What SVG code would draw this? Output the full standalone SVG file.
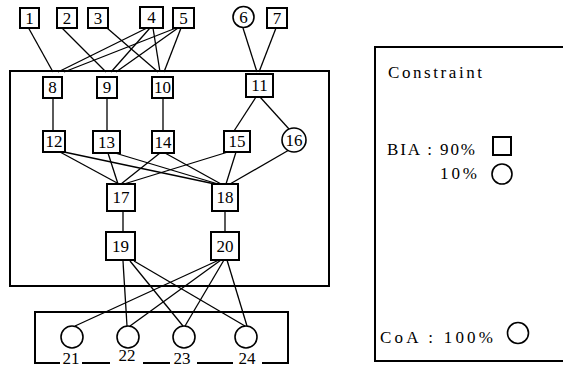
<svg xmlns="http://www.w3.org/2000/svg" width="563" height="369" viewBox="0 0 563 369">
<style>
.frame{fill:none;stroke:#000;stroke-width:2}
.box{fill:#fff;stroke:#000;stroke-width:2}
.circ{fill:#fff;stroke:#000;stroke-width:1.6}
.edge{stroke:#000;stroke-width:1.3;fill:none}
.lbl{font-family:"Liberation Serif","Times New Roman",serif;font-size:17px;fill:#000;text-anchor:middle}
.txt{font-family:"Liberation Serif","Times New Roman",serif;font-size:17px;fill:#000}
</style>
<rect width="563" height="369" fill="#fff"/>
<g id="frames">
<rect class="frame" x="10" y="71" width="319" height="215"/>
<path class="frame" d="M60,363 H35 V312 H288 V363 H262 M82,363 H110 M143,363 H170 M197,363 H233"/>
<rect class="frame" x="375" y="47" width="200" height="314"/>
</g>
<g id="connectors">
<line class="edge" x1="28" y1="27" x2="53" y2="72"/>
<line class="edge" x1="62" y1="28" x2="106" y2="72"/>
<line class="edge" x1="107" y1="28" x2="158" y2="72"/>
<line class="edge" x1="147" y1="28" x2="58" y2="72"/>
<line class="edge" x1="150" y1="28" x2="111" y2="72"/>
<line class="edge" x1="153" y1="28" x2="160" y2="72"/>
<line class="edge" x1="176" y1="28" x2="64" y2="72"/>
<line class="edge" x1="178" y1="28" x2="116" y2="72"/>
<line class="edge" x1="181" y1="28" x2="164" y2="72"/>
<line class="edge" x1="243" y1="28" x2="257" y2="72"/>
<line class="edge" x1="276" y1="28" x2="259" y2="72"/>
<line class="edge" x1="53" y1="98" x2="53" y2="131"/>
<line class="edge" x1="107" y1="98" x2="107" y2="131"/>
<line class="edge" x1="163" y1="98" x2="163" y2="131"/>
<line class="edge" x1="256" y1="97" x2="234" y2="131"/>
<line class="edge" x1="260" y1="97" x2="289" y2="129"/>
<line class="edge" x1="60" y1="152" x2="119" y2="184"/>
<line class="edge" x1="64" y1="152" x2="215" y2="184"/>
<line class="edge" x1="108" y1="153" x2="118" y2="184"/>
<line class="edge" x1="115" y1="153" x2="218" y2="184"/>
<line class="edge" x1="160" y1="153" x2="121" y2="184"/>
<line class="edge" x1="165" y1="153" x2="221" y2="184"/>
<line class="edge" x1="228" y1="152" x2="124" y2="184"/>
<line class="edge" x1="236" y1="152" x2="226" y2="184"/>
<line class="edge" x1="289" y1="150" x2="230" y2="184"/>
<line class="edge" x1="123" y1="211" x2="123" y2="232"/>
<line class="edge" x1="225" y1="211" x2="225" y2="232"/>
<line class="edge" x1="123" y1="261" x2="127" y2="326"/>
<line class="edge" x1="130" y1="261" x2="183" y2="326"/>
<line class="edge" x1="134" y1="261" x2="245" y2="326"/>
<line class="edge" x1="219" y1="260" x2="75" y2="326"/>
<line class="edge" x1="221" y1="260" x2="130" y2="326"/>
<line class="edge" x1="224" y1="260" x2="185" y2="326"/>
<line class="edge" x1="227" y1="260" x2="247" y2="326"/>
</g>
<g id="n1"><rect class="box" x="20" y="8" width="19" height="20"/><text class="lbl" x="29.5" y="24">1</text></g>
<g id="n2"><rect class="box" x="57" y="8" width="20" height="20"/><text class="lbl" x="67" y="24">2</text></g>
<g id="n3"><rect class="box" x="88" y="8" width="20" height="20"/><text class="lbl" x="98" y="24">3</text></g>
<g id="n4"><rect class="box" x="140" y="7" width="23" height="21"/><text class="lbl" x="151.5" y="23">4</text></g>
<g id="n5"><rect class="box" x="173" y="8" width="21" height="20"/><text class="lbl" x="183.5" y="24">5</text></g>
<g id="n6"><circle class="circ" cx="243.5" cy="17" r="10.5"/><text class="lbl" x="243.5" y="23">6</text></g>
<g id="n7"><rect class="box" x="267" y="8" width="20" height="20"/><text class="lbl" x="277" y="24">7</text></g>
<g id="n8"><rect class="box" x="43" y="77" width="19" height="21"/><text class="lbl" x="52.5" y="93">8</text></g>
<g id="n9"><rect class="box" x="97" y="77" width="20" height="21"/><text class="lbl" x="107" y="93">9</text></g>
<g id="n10"><rect class="box" x="152" y="77" width="21" height="21"/><text class="lbl" x="162.5" y="93">10</text></g>
<g id="n11"><rect class="box" x="246" y="74" width="27" height="23"/><text class="lbl" x="259.5" y="91">11</text></g>
<g id="n12"><rect class="box" x="43" y="131" width="22" height="21"/><text class="lbl" x="54" y="147">12</text></g>
<g id="n13"><rect class="box" x="93" y="131" width="27" height="22"/><text class="lbl" x="106.5" y="148">13</text></g>
<g id="n14"><rect class="box" x="152" y="131" width="22" height="22"/><text class="lbl" x="163" y="148">14</text></g>
<g id="n15"><rect class="box" x="224" y="131" width="26" height="21"/><text class="lbl" x="237" y="147">15</text></g>
<g id="n16"><circle class="circ" cx="294" cy="140" r="12"/><text class="lbl" x="294" y="146">16</text></g>
<g id="n17"><rect class="box" x="107" y="184" width="28" height="27"/><text class="lbl" x="121" y="203">17</text></g>
<g id="n18"><rect class="box" x="212" y="184" width="26" height="27"/><text class="lbl" x="225" y="203">18</text></g>
<g id="n19"><rect class="box" x="106" y="232" width="29" height="28"/><text class="lbl" x="120.5" y="252">19</text></g>
<g id="n20"><rect class="box" x="211" y="232" width="28" height="28"/><text class="lbl" x="225" y="252">20</text></g>
<g id="n21"><circle class="circ" cx="72" cy="337" r="11"/><text class="lbl" x="71" y="364">21</text></g>
<g id="n22"><circle class="circ" cx="128" cy="337" r="11"/><text class="lbl" x="127" y="361">22</text></g>
<g id="n23"><circle class="circ" cx="184" cy="337" r="11"/><text class="lbl" x="182" y="364">23</text></g>
<g id="n24"><circle class="circ" cx="246" cy="337" r="11"/><text class="lbl" x="247" y="364">24</text></g>
<g id="legend">
<text class="txt" x="388" y="78" font-size="15" textLength="94" lengthAdjust="spacing">Constraint</text>
<text class="txt" x="387" y="155" textLength="88" lengthAdjust="spacing">BIA : 90%</text>
<rect class="box" x="493" y="137" width="18" height="18"/>
<text class="txt" x="440" y="179" textLength="37" lengthAdjust="spacing">10%</text>
<circle class="circ" cx="502" cy="174" r="10"/>
<text class="txt" x="380" y="343" textLength="113" lengthAdjust="spacing">CoA : 100%</text>
<circle class="circ" cx="518" cy="333" r="10.5"/>
</g>
</svg>
